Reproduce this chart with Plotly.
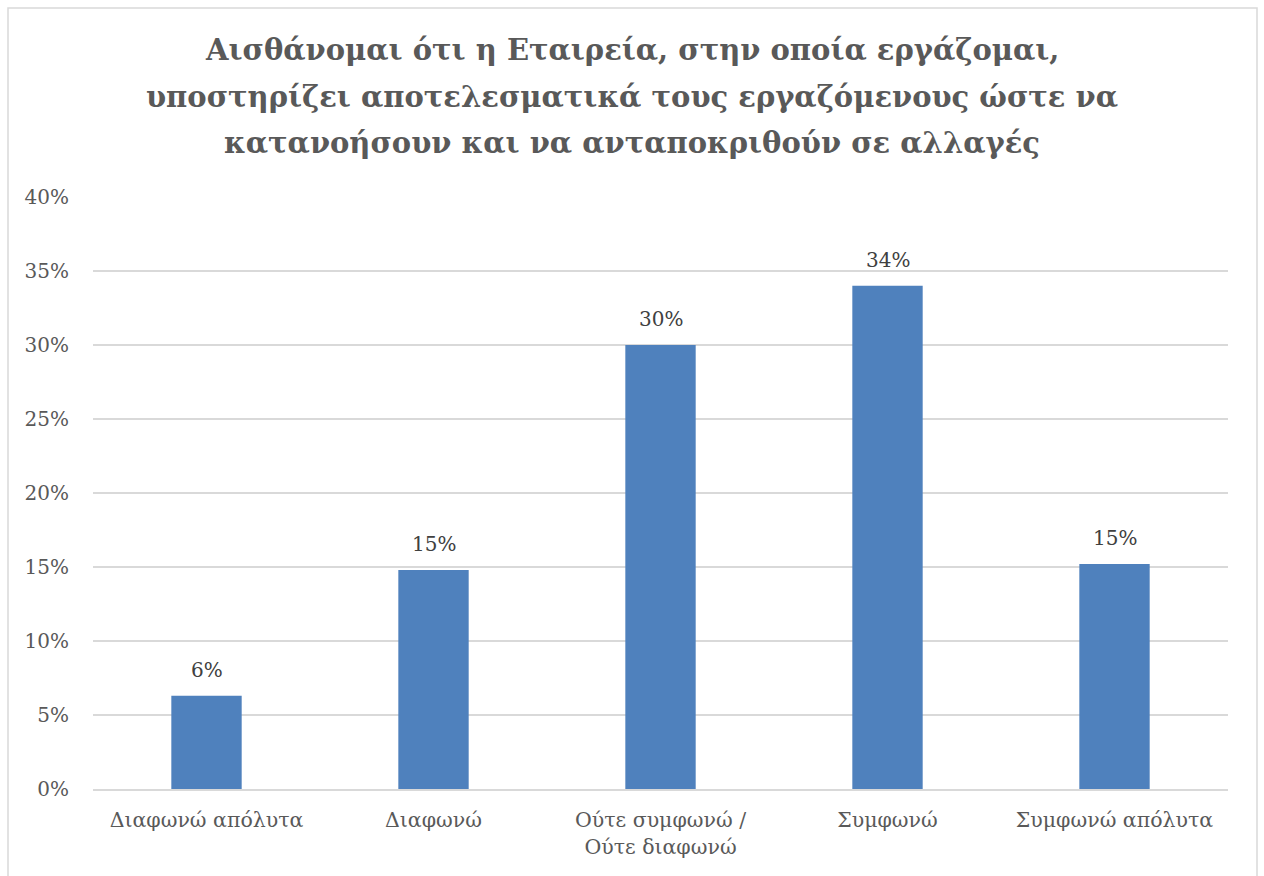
import plotly.graph_objects as go

# Survey responses (share of respondents, %)
categories = ["Διαφωνώ απόλυτα", "Διαφωνώ", "Ούτε συμφωνώ /<br>Ούτε διαφωνώ", "Συμφωνώ", "Συμφωνώ απόλυτα"]
shares = [6.3, 14.8, 30.0, 34.0, 15.2]
y_ticks = [0, 5, 10, 15, 20, 25, 30, 35, 40]

title_lines = [
    "Αισθάνομαι ότι η Εταιρεία, στην οποία εργάζομαι,",
    "υποστηρίζει αποτελεσματικά τους εργαζόμενους ώστε να",
    "κατανοήσουν και να ανταποκριθούν σε αλλαγές",
]

serif = "DejaVu Serif, Liberation Serif, serif"
grey = "#595959"

fig = go.Figure(
    go.Bar(
        x=categories,
        y=shares,
        marker=dict(color="#4f81bd", line=dict(width=0)),
        hoverinfo="x+y",
    )
)

fig.update_layout(
    width=1264,
    height=876,
    margin=dict(l=93, r=36, t=197, b=87),
    paper_bgcolor="white",
    plot_bgcolor="white",
    bargap=0.69,
    showlegend=False,
    font=dict(family=serif, color=grey),
)

fig.update_yaxes(
    range=[0, 40],
    tickvals=y_ticks,
    ticktext=[f"{v}%" for v in y_ticks],
    showgrid=True,
    gridcolor="#d9d9d9",
    gridwidth=1.5,
    zeroline=False,
    showline=False,
    ticks="",
    ticklabelstandoff=23,
    tickfont=dict(family=serif, size=20, color=grey),
)

fig.update_xaxes(
    showline=True,
    linecolor="#d9d9d9",
    linewidth=1.5,
    ticks="",
    ticklabelstandoff=12,
    tickfont=dict(family=serif, size=20.5, color=grey),
)

# Value labels above each bar
for cat, val in zip(categories, shares):
    fig.add_annotation(
        x=cat, y=val, xref="x", yref="y",
        text=f"{val:.0f}%",
        showarrow=False,
        yanchor="bottom",
        yshift=12,
        font=dict(family=serif, size=20, color="#404040"),
    )

# Chart title, one annotation per line
title_centres = [50, 97, 143]
for line, yc in zip(title_lines, title_centres):
    fig.add_annotation(
        x=(632 - 93) / 1135, y=(789 - yc) / 592,
        xref="paper", yref="paper",
        text=f"<b>{line}</b>",
        showarrow=False,
        xanchor="center", yanchor="middle",
        font=dict(family=serif, size=29, color=grey),
    )

# Light frame around the whole chart area
fig.add_shape(
    type="rect",
    xref="paper", yref="paper",
    x0=(8 - 93) / 1135, x1=(1257 - 93) / 1135,
    y0=(789 - 900) / 592, y1=(789 - 8) / 592,
    line=dict(color="#d9d9d9", width=1.5),
    fillcolor="rgba(0,0,0,0)",
    layer="below",
)

fig.write_html("out.html")
